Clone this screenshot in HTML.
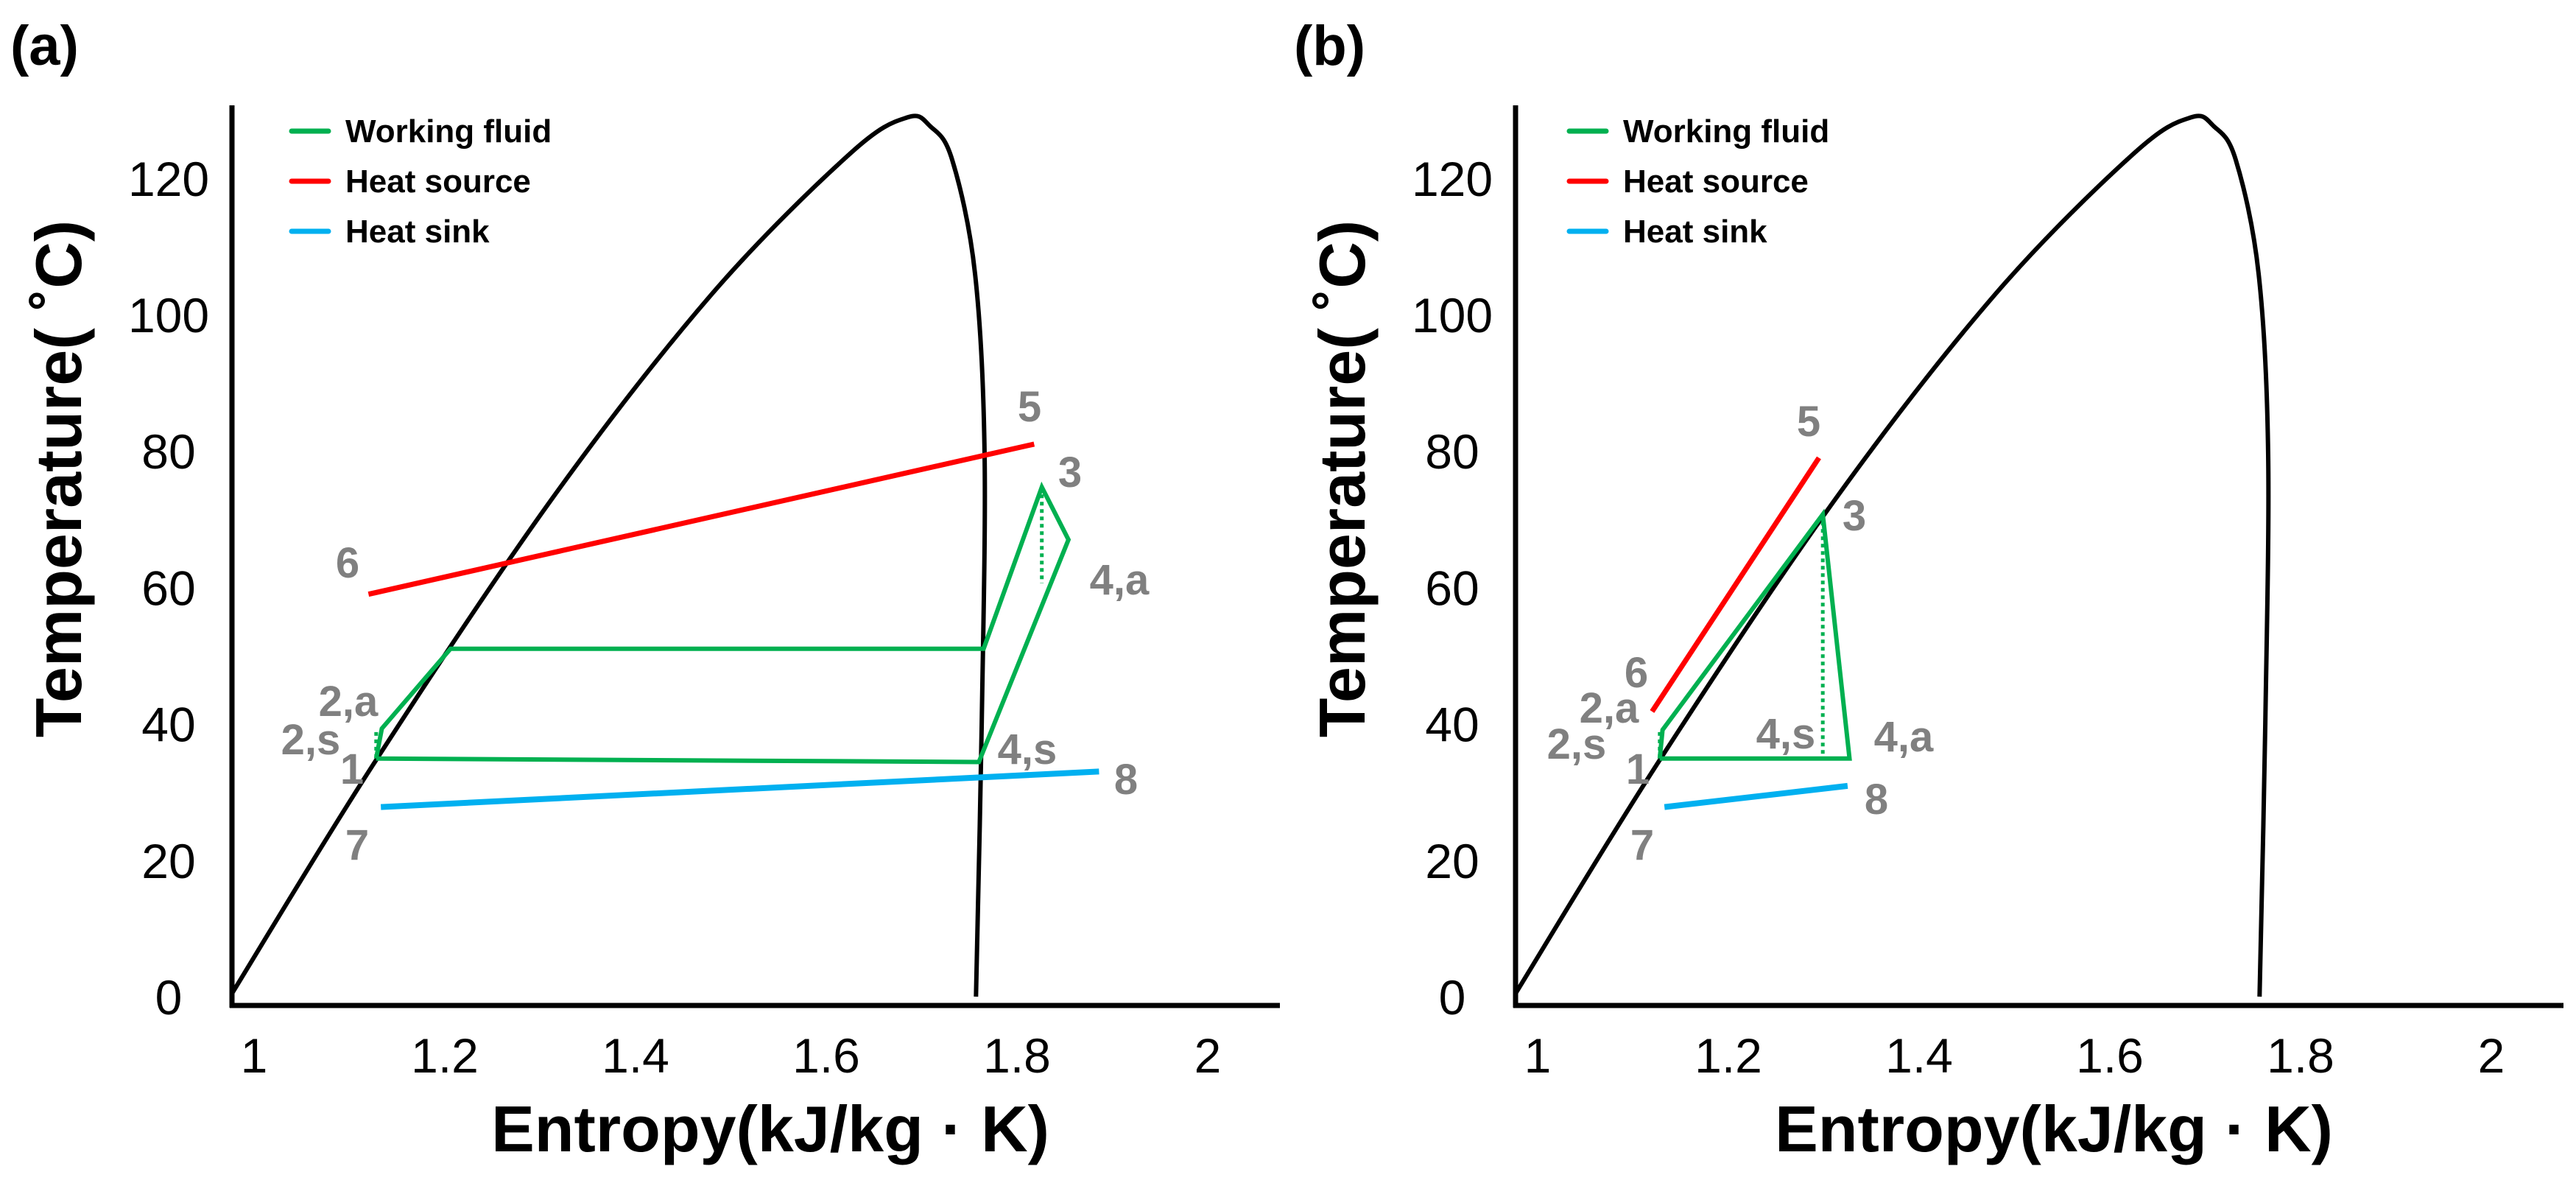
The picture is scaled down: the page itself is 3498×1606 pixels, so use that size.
<!DOCTYPE html>
<html><head><meta charset="utf-8"><style>
html,body{margin:0;padding:0;background:#fff}
svg{display:block}
text{font-family:"Liberation Sans",sans-serif}
.tick{font-size:66px;fill:#000}
.lbl{font-size:58px;font-weight:bold;fill:#808080}
.leg{font-size:44px;font-weight:bold;fill:#000}
.title{font-size:88px;font-weight:bold;fill:#000}
.panel{font-size:76px;font-weight:bold;fill:#000}
</style></head>
<body>
<svg id="chart" width="3498" height="1606" viewBox="0 0 3498 1606" xmlns="http://www.w3.org/2000/svg"></svg>
<script>
// ---- data ----
const domeS = [0.977,1.128,1.313,1.480,1.625,1.685,1.709,1.732,1.756,1.766,1.763,1.757];
const domeT = [0.5,34.7,73.1,103,123.6,128.9,127.6,122.7,106,79.4,40,0];
const xTicks = [1,1.2,1.4,1.6,1.8,2];
const xTickLabels = ["1","1.2","1.4","1.6","1.8","2"];
const yTicks = [0,20,40,60,80,100,120];
const yTickLabels = ["0","20","40","60","80","100","120"];
// panel a
const aFluidS = [1.128,1.134,1.206,1.765,1.826,1.854,1.760,1.128];
const aFluidT = [34.9,39.3,51.0,51.0,74.7,67.0,34.4,34.9];
const aDot3S = [1.826,1.826]; const aDot3T = [74.7,60.6];
const aDot2S = [1.128,1.128]; const aDot2T = [35,39.3];
const aSourceS = [1.120,1.818]; const aSourceT = [59,81];
const aSinkS = [1.133,1.886]; const aSinkT = [27.8,33];
// panel b
const bFluidS = [1.128,1.131,1.299,1.327,1.128];
const bFluidT = [34.9,39.1,70.7,34.9,34.9];
const bDot3S = [1.299,1.299]; const bDot3T = [70.7,35];
const bDot2S = [1.128,1.128]; const bDot2T = [35,39.1];
const bSourceS = [1.120,1.295]; const bSourceT = [41.8,79];
const bSinkS = [1.133,1.325]; const bSinkT = [27.8,30.9];

const NS="http://www.w3.org/2000/svg";
const svg=document.getElementById('chart');
function mk(tag,attrs,parent){const e=document.createElementNS(NS,tag);for(const k in attrs)e.setAttribute(k,attrs[k]);(parent||svg).appendChild(e);return e;}
const Y0=1353, YK=9.26, XK=1295;
function sy(T){return Y0-T*YK;}

function crPath(xs,ys){
  let d='M'+xs[0].toFixed(1)+','+ys[0].toFixed(1);
  for(let i=0;i<xs.length-1;i++){
    const p0=[xs[Math.max(i-1,0)],ys[Math.max(i-1,0)]],p1=[xs[i],ys[i]],p2=[xs[i+1],ys[i+1]],p3=[xs[Math.min(i+2,xs.length-1)],ys[Math.min(i+2,ys.length-1)]];
    const c1=[p1[0]+(p2[0]-p0[0])/6,p1[1]+(p2[1]-p0[1])/6],c2=[p2[0]-(p3[0]-p1[0])/6,p2[1]-(p3[1]-p1[1])/6];
    d+=' C'+c1.map(v=>v.toFixed(1)).join(',')+' '+c2.map(v=>v.toFixed(1)).join(',')+' '+p2[0].toFixed(1)+','+p2[1].toFixed(1);
  }
  return d;
}

function panel(off,id,fS,fT,d3S,d3T,d2S,d2T,srcS,srcT,snkS,snkT,labels){
  const sx=s=>345+off+(s-1)*XK;
  const g=mk('g',{});
  
  
  const pt=mk('text',{x:14+off,y:88,class:'panel'},g); pt.textContent='('+id+')';
   
  const ya=mk('line',{x1:315+off,y1:143,x2:315+off,y2:1368,stroke:'#000','stroke-width':7},g);
   
  const xa=mk('line',{x1:312+off,y1:1365,x2:1738+off,y2:1365,stroke:'#000','stroke-width':7},g);
   
  xTicks.forEach((v,i)=>{const t=mk('text',{x:sx(v),y:1456,'text-anchor':'middle',class:'tick'},g);t.textContent=xTickLabels[i];
     });
  yTicks.forEach((v,i)=>{const t=mk('text',{x:229+off,y:sy(v)+24,'text-anchor':'middle',class:'tick'},g);t.textContent=yTickLabels[i];
     });
  const yt=mk('text',{x:0,y:0,'text-anchor':'middle',class:'title',transform:'translate('+(110+off)+',650) rotate(-90)'},g);
  yt.textContent='Temperature( ˚C)';
   
  const xt=mk('text',{x:1046+off,y:1563,'text-anchor':'middle',class:'title'},g);
  xt.textContent='Entropy(kJ/kg · K)';
   
  const dm=mk('path',{d:crPath(domeS.map(sx),domeT.map(sy)),fill:'none',stroke:'#000','stroke-width':6},g);
   
  const poly=(S,T,col,w,name,dash)=>{const p=mk('polyline',{points:S.map((s,i)=>sx(s).toFixed(1)+','+sy(T[i]).toFixed(1)).join(' '),fill:'none',stroke:col,'stroke-width':w,'stroke-linejoin':'miter'},g);
    if(dash)p.setAttribute('stroke-dasharray',dash);
     };
  poly(srcS,srcT,'#ff0000',7,'heat-source-line');
  poly(snkS,snkT,'#00b0f0',8,'heat-sink-line');
  poly(fS,fT,'#00b050',6,'working-fluid-cycle');
  poly(d3S,d3T,'#00b050',5,'isentropic-expansion-dotted','5 5');
  poly(d2S,d2T,'#00b050',5,'isentropic-pump-dotted','5 5');
  const leg=[['Working fluid','#00b050',178],['Heat source','#ff0000',246],['Heat sink','#00b0f0',314]];
  leg.forEach(l=>{const ln=mk('line',{x1:396+off-8*(id==='b'),y1:l[2],x2:446+off-8*(id==='b'),y2:l[2],stroke:l[1],'stroke-width':7,'stroke-linecap':'round'},g);
     
    const t=mk('text',{x:469+off-8*(id==='b'),y:l[2]+15,class:'leg'},g); t.textContent=l[0];
     });
  labels.forEach(l=>{const t=mk('text',{x:l[1],y:l[2]+20,'text-anchor':'middle',class:'lbl'},g);t.textContent=l[0];
     });
}
panel(0,'a',aFluidS,aFluidT,aDot3S,aDot3T,aDot2S,aDot2T,aSourceS,aSourceT,aSinkS,aSinkT,
 [['5',1398,552],['3',1453,641],['6',472,764],['4,a',1520,787],['2,a',473,952],['2,s',422,1004],['1',478,1044],['4,s',1395,1017],['8',1529,1058],['7',485,1147]]);
panel(1743,'b',bFluidS,bFluidT,bDot3S,bDot3T,bDot2S,bDot2T,bSourceS,bSourceT,bSinkS,bSinkT,
 [['5',2456,572],['3',2518,700],['6',2222,913],['2,a',2185,961],['2,s',2141,1010],['1',2224,1044],['4,s',2425,996],['4,a',2585,1000],['8',2548,1085],['7',2230,1147]]);
</script>
</body></html>
